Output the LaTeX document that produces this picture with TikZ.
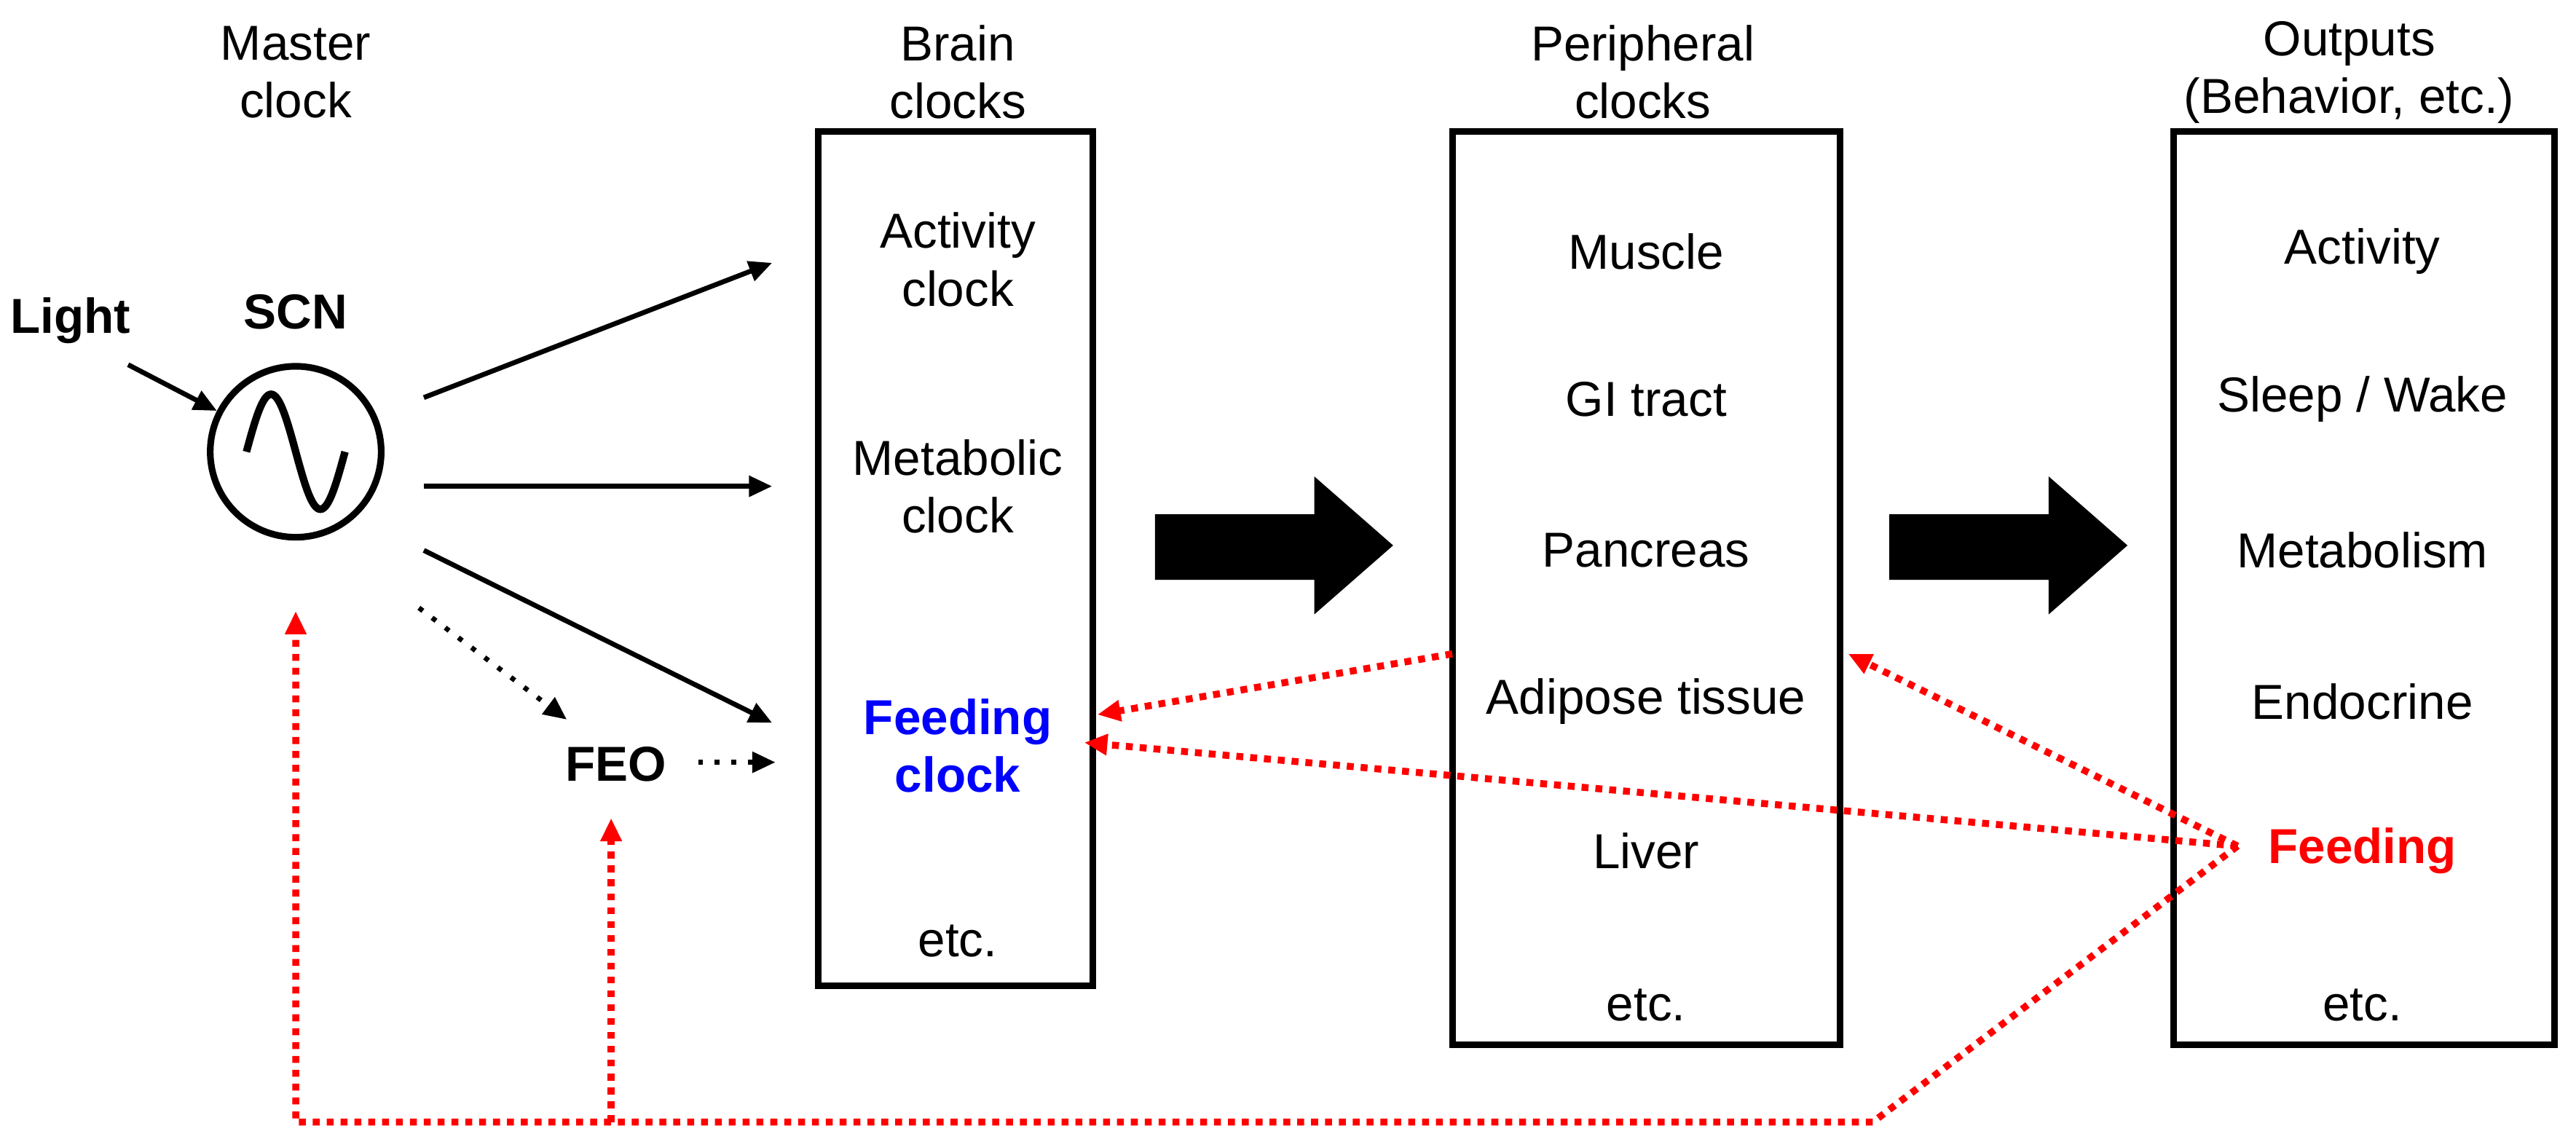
\documentclass[tikz,border=0pt]{standalone}
\usepackage{fontspec}
\setmainfont{Liberation Sans}
\usetikzlibrary{arrows.meta}
\begin{document}
\begin{tikzpicture}[x=0.01cm,y=-0.01cm,
  txt/.style={font=\fontsize{8.5}{10}\selectfont,align=center,inner sep=1pt},
  btxt/.style={txt,font=\fontsize{8.5}{10}\selectfont\bfseries},
  box/.style={draw,line width=1.15pt},
  arr/.style={-{Triangle[length=4pt,width=3.5pt]},line width=0.85pt},
  dar/.style={arr,dotted},
  red arr/.style={-{Triangle[length=4pt,width=3.5pt]},red,line width=1.2pt,dash pattern=on 1.2pt off 1.2pt},
  bigarrow/.style={fill=black}]
\useasboundingbox (0,0) rectangle (1568,695);
% headers
\node[txt] (hm) at (180,44) {Master\\clock};
\node[txt] (hb) at (583,44) {Brain\\clocks};
\node[txt] (hp) at (1000,44) {Peripheral\\clocks};
\node[txt] (ho) at (1430,44) {Outputs\\(Behavior, etc.)};
% boxes
\draw[box] (498,80) rectangle (665,600);
\draw[box] (884,80) rectangle (1120,636);
\draw[box] (1323,80) rectangle (1555,636);
% master clock
\node[btxt] (light) at (43,195) {Light};
\node[btxt] (scnl) at (180,190) {SCN};
\node[draw,circle,line width=1.15pt,minimum size=1.04cm,inner sep=0pt] (scn) at (180,275) {};
\draw[line width=1.3pt] (150,275) sin (165,240) cos (180,275) sin (195,310) cos (210,275);
\draw[arr] (78,222) -- (scn);
\node[btxt] (feo) at (375,465) {FEO};
% brain
\node[txt] (act) at (583,158) {Activity\\clock};
\node[txt] (met) at (583,296) {Metabolic\\clock};
\node[btxt,text=blue] (feed) at (583,454) {Feeding\\clock};
\node[txt] (bet) at (583,573) {etc.};
\coordinate (s1) at (258,242);
\coordinate (s2) at (258,296);
\coordinate (s3) at (258,335);
\coordinate (s4) at (255,370);
\coordinate (t1) at (470,160);
\coordinate (t2) at (470,296);
\coordinate (t3) at (470,440);
\coordinate (t5) at (472,464);
\draw[arr] (s1) -- (t1);
\draw[arr] (s2) -- (t2);
\draw[arr] (s3) -- (t3);
\draw[dar] (s4) -- (345,438);
\draw[dar] (425,464) -- (t5);
% big arrows
\fill[bigarrow] (703,313) -- (800,313) -- (800,290) -- (848,332) -- (800,374) -- (800,353) -- (703,353) -- cycle;
\fill[bigarrow] (1150,313) -- (1247,313) -- (1247,290) -- (1295,332) -- (1247,374) -- (1247,353) -- (1150,353) -- cycle;
% peripheral
\node[txt] (mus) at (1002,153) {Muscle};
\node[txt] (gi) at (1002,243) {GI tract};
\node[txt] (pan) at (1002,335) {Pancreas};
\node[txt] (adi) at (1002,427) {Adipose tissue};
\node[txt] (liv) at (1002,518) {Liver};
\node[txt] (pet) at (1002,612) {etc.};
% outputs
\node[txt] (oa) at (1438,153) {Activity};
\node[txt] (os) at (1438,243) {Sleep / Wake};
\node[txt] (om) at (1438,335) {Metabolism};
\node[txt] (oe) at (1438,427) {Endocrine};
\node[btxt,text=red] (of) at (1438,518) {Feeding};
\node[txt] (oet) at (1438,612) {etc.};
% red feedback
\coordinate (fs) at (1362,515);
\coordinate (pa) at (884,398);
\coordinate (c1) at (1140,683);
\coordinate (c2) at (372,683);
\coordinate (c3) at (180,683);
\draw[red arr] (pa) -- (668,435);
\draw[red arr] (fs) -- (660,452);
\draw[red arr] (fs) -- (1125,398);
\draw[red arr] (fs) -- (c1) -- (c3) -- (180,372);
\draw[red arr] (c2) -- (372,498);
\end{tikzpicture}
\end{document}
